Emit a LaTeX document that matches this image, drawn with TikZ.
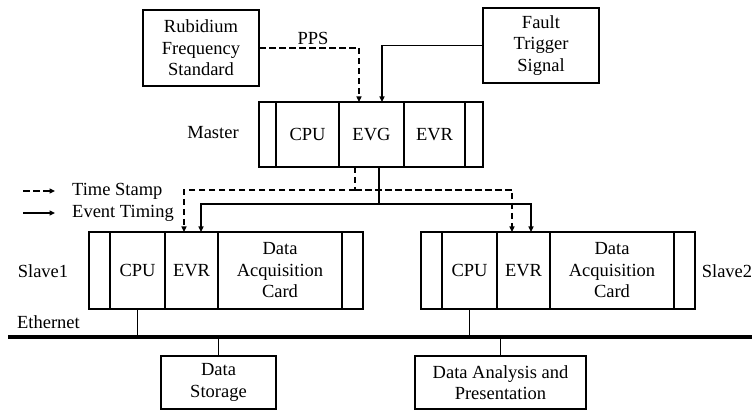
\documentclass[tikz,border=0pt]{standalone}
\usepackage{fontspec}
\setmainfont{Liberation Serif}
\usetikzlibrary{positioning, arrows.meta}

\tikzset{
    blk/.style = {draw, line width = 1.2pt, align = center, inner sep = 0pt, outer sep = 0pt},
    cell/.style = {blk, minimum height = #1},
    tsline/.style = {line width = 1.1pt, dash pattern = on 6.5pt off 3.5pt},
    evline/.style = {line width = 1.1pt},
    bus/.style = {line width = 4pt}
}

\begin{document}
\begin{tikzpicture}[x = 1pt, y = -1pt,
    font = \fontsize{18.5}{21.5}\selectfont,
    >={Triangle[length = 5.5pt, width = 5pt]}]
    \useasboundingbox (0,0) rectangle (752,411);

    \node [blk, minimum width = 116, minimum height = 76] (rfs) at (201,48)
    {Rubidium\\Frequency\\Standard};
    \node [blk, minimum width = 116, minimum height = 75] (fts) at (541,45.5)
    {Fault\\Trigger\\Signal};
    \node (pps) at (313,38) {PPS};

    \node (mlab) at (213,133) {Master};
    \node [cell = 65, minimum width = 17] (m0) at (267.5,134.5) {};
    \node [cell = 65, minimum width = 63, right = 0pt of m0] (mcpu) {CPU};
    \node [cell = 65, minimum width = 65, right = 0pt of mcpu] (mevg) {EVG};
    \node [cell = 65, minimum width = 61, right = 0pt of mevg] (mevr) {EVR};
    \node [cell = 65, minimum width = 18, right = 0pt of mevr] (m4) {};

    \node (s1lab) at (43,271) {Slave1};
    \node [cell = 77, minimum width = 21] (s10) at (99.5,270.5) {};
    \node [cell = 77, minimum width = 55, right = 0pt of s10] (s1cpu) {CPU};
    \node [cell = 77, minimum width = 53, right = 0pt of s1cpu] (s1evr) {EVR};
    \node [cell = 77, minimum width = 124, right = 0pt of s1evr] (s1dac)
    {Data\\Acquisition\\Card};
    \node [cell = 77, minimum width = 21, right = 0pt of s1dac] (s14) {};

    \node (s2lab) at (727,271) {Slave2};
    \node [cell = 77, minimum width = 21] (s20) at (431.5,270.5) {};
    \node [cell = 77, minimum width = 55, right = 0pt of s20] (s2cpu) {CPU};
    \node [cell = 77, minimum width = 53, right = 0pt of s2cpu] (s2evr) {EVR};
    \node [cell = 77, minimum width = 124, right = 0pt of s2evr] (s2dac)
    {Data\\Acquisition\\Card};
    \node [cell = 77, minimum width = 21, right = 0pt of s2dac] (s24) {};

    \coordinate (lts) at (23,191);
    \coordinate (lev) at (23,213);
    \node [anchor = west, inner sep = 0pt] (tsl) at (72,191) {Time Stamp};
    \node [anchor = west, inner sep = 0pt] (evl) at (72,213) {Event Timing};
    \draw [tsline, ->] (lts) -- ([xshift = -17pt]tsl.west);
    \draw [evline, ->] (lev) -- ([xshift = -17pt]evl.west);

    \draw [tsline, ->] (rfs.east) -| ([xshift = -12.5pt]mevg.north);
    \draw [evline, ->] (fts.west) -| ([xshift = 10.5pt]mevg.north);

    \draw [tsline] ([xshift = -16.5pt]mevg.south) -- ++(0,23) coordinate (tsj);
    \draw [tsline, ->] (tsj) -| ([xshift = -7.5pt]s1evr.north);
    \draw [tsline, ->] (tsj) -| ([xshift = -11.5pt]s2evr.north);
    \draw [evline] ([xshift = 7.5pt]mevg.south) -- ++(0,37) coordinate (evj);
    \draw [evline, ->] (evj) -| ([xshift = 9.5pt]s1evr.north);
    \draw [evline, ->] (evj) -| ([xshift = 7.5pt]s2evr.north);

    \node (eth) at (48.5,322) {Ethernet};
    \coordinate (busl) at (8,337);
    \coordinate (busr) at (752,337);
    \draw [bus] (busl) -- (busr);

    \node [blk, minimum width = 115, minimum height = 53] (dst) at (218.5,382.5)
    {Data\\Storage};
    \node [blk, minimum width = 171, minimum height = 53] (dap) at (500.5,382.5)
    {Data Analysis and\\Presentation};

    \draw [evline] (s1cpu.south) -- (s1cpu.south |- busl);
    \draw [evline] (s2cpu.south) -- (s2cpu.south |- busl);
    \draw [evline] (dst.north) -- (dst.north |- busl);
    \draw [evline] (dap.north) -- (dap.north |- busl);
\end{tikzpicture}
\end{document}
